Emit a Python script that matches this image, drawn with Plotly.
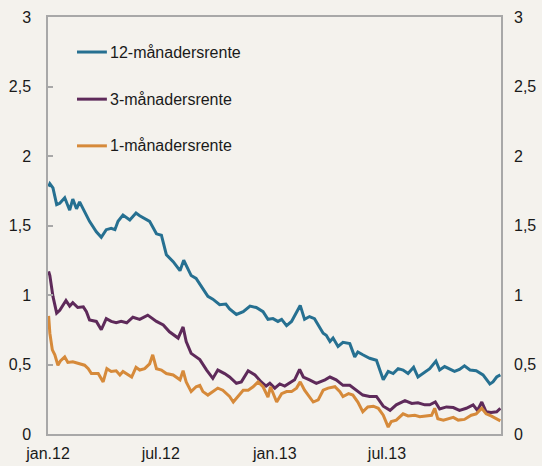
import plotly.graph_objects as go

# ---- data ----
dates_12m = ["2012-01-02","2012-01-04","2012-01-09","2012-01-15","2012-01-20","2012-01-28","2012-02-05","2012-02-10",
             "2012-02-16","2012-02-21","2012-02-29","2012-03-08","2012-03-19","2012-03-27","2012-04-04","2012-04-12",
             "2012-04-18","2012-04-23","2012-05-01","2012-05-12","2012-05-22","2012-05-28","2012-06-13","2012-06-24",
             "2012-07-02","2012-07-10","2012-07-21","2012-08-01","2012-08-07","2012-08-19","2012-08-27","2012-09-07",
             "2012-09-15","2012-09-23","2012-10-04","2012-10-14","2012-10-20","2012-10-31","2012-11-11","2012-11-22",
             "2012-12-02","2012-12-13","2012-12-21","2012-12-29","2013-01-06","2013-01-12","2013-01-20","2013-01-28",
             "2013-02-05","2013-02-11","2013-02-18","2013-02-26","2013-03-06","2013-03-14","2013-03-20","2013-03-25",
             "2013-03-31","2013-04-05","2013-04-13","2013-04-21","2013-05-02","2013-05-10","2013-05-15","2013-05-23",
             "2013-06-03","2013-06-14","2013-06-19","2013-06-25","2013-07-03","2013-07-11","2013-07-19","2013-07-27",
             "2013-08-04","2013-08-13","2013-08-20","2013-08-28","2013-09-08","2013-09-18","2013-09-24","2013-10-02",
             "2013-10-10","2013-10-18","2013-10-26","2013-11-03","2013-11-12","2013-11-22","2013-12-03","2013-12-14",
             "2013-12-19","2013-12-25","2013-12-31"]
rate_12m = [1.78,1.80,1.77,1.65,1.66,1.70,1.61,1.69,1.62,1.67,1.60,1.53,1.455,1.415,1.47,1.48,
            1.47,1.53,1.575,1.54,1.59,1.57,1.53,1.44,1.43,1.29,1.24,1.175,1.25,1.14,1.12,1.05,
            0.99,0.97,0.93,0.935,0.90,0.86,0.88,0.92,0.91,0.88,0.825,0.83,0.81,0.825,0.78,0.81,
            0.87,0.925,0.825,0.845,0.83,0.77,0.725,0.71,0.665,0.69,0.63,0.66,0.65,0.555,0.59,0.57,
            0.545,0.53,0.47,0.39,0.45,0.435,0.47,0.46,0.435,0.48,0.41,0.435,0.47,0.525,0.46,0.485,
            0.47,0.45,0.465,0.49,0.46,0.455,0.425,0.36,0.375,0.41,0.425]

dates_3m = ["2012-01-02","2012-01-04","2012-01-09","2012-01-15","2012-01-20","2012-01-30","2012-02-05","2012-02-10",
            "2012-02-18","2012-02-27","2012-03-03","2012-03-08","2012-03-19","2012-03-27","2012-04-04","2012-04-12",
            "2012-04-20","2012-04-28","2012-05-07","2012-05-17","2012-05-28","2012-06-10","2012-06-24","2012-07-05",
            "2012-07-15","2012-07-29","2012-08-06","2012-08-11","2012-08-19","2012-09-02","2012-09-13","2012-09-23",
            "2012-10-01","2012-10-12","2012-10-20","2012-10-31","2012-11-08","2012-11-19","2012-11-30","2012-12-10",
            "2012-12-18","2012-12-24","2013-01-01","2013-01-09","2013-01-17","2013-01-25","2013-02-02","2013-02-10",
            "2013-02-16","2013-02-26","2013-03-09","2013-03-23","2013-03-31","2013-04-10","2013-04-21","2013-05-02",
            "2013-05-13","2013-05-23","2013-06-03","2013-06-14","2013-06-25","2013-07-06","2013-07-16","2013-07-30",
            "2013-08-10","2013-08-20","2013-08-31","2013-09-08","2013-09-17","2013-09-24","2013-10-05","2013-10-16",
            "2013-10-26","2013-11-06","2013-11-17","2013-11-24","2013-12-01","2013-12-08","2013-12-16","2013-12-25",
            "2013-12-31"]
rate_3m = [1.17,1.14,0.99,0.87,0.89,0.96,0.92,0.945,0.91,0.915,0.88,0.82,0.81,0.75,0.83,0.81,
           0.80,0.81,0.80,0.84,0.825,0.855,0.81,0.785,0.735,0.69,0.77,0.665,0.58,0.535,0.46,0.40,
           0.46,0.435,0.41,0.365,0.375,0.455,0.425,0.375,0.345,0.365,0.33,0.36,0.345,0.365,0.39,0.465,
           0.41,0.39,0.365,0.39,0.41,0.39,0.35,0.35,0.315,0.28,0.27,0.27,0.20,0.17,0.21,0.24,
           0.22,0.225,0.21,0.21,0.23,0.18,0.195,0.19,0.17,0.185,0.21,0.17,0.23,0.16,0.155,0.16,
           0.185]

dates_1m = ["2012-01-02","2012-01-04","2012-01-08","2012-01-12","2012-01-17","2012-01-21","2012-01-28","2012-02-02",
            "2012-02-10","2012-02-21","2012-02-29","2012-03-06","2012-03-11","2012-03-22","2012-03-30","2012-04-05",
            "2012-04-12","2012-04-20","2012-04-26","2012-05-01","2012-05-09","2012-05-15","2012-05-22","2012-05-28",
            "2012-06-05","2012-06-13","2012-06-18","2012-06-24","2012-07-02","2012-07-10","2012-07-21","2012-08-01",
            "2012-08-06","2012-08-11","2012-08-19","2012-08-27","2012-09-02","2012-09-07","2012-09-15","2012-09-23",
            "2012-10-01","2012-10-09","2012-10-20","2012-10-26","2012-11-03","2012-11-11","2012-11-19","2012-11-27",
            "2012-12-05","2012-12-13","2012-12-21","2012-12-25","2013-01-04","2013-01-12","2013-01-20","2013-01-28",
            "2013-02-05","2013-02-11","2013-02-18","2013-03-04","2013-03-12","2013-03-20","2013-03-28","2013-04-08",
            "2013-04-16","2013-04-21","2013-04-30","2013-05-07","2013-05-15","2013-05-23","2013-05-31","2013-06-09",
            "2013-06-17","2013-06-25","2013-07-03","2013-07-08","2013-07-16","2013-07-27","2013-08-04","2013-08-15",
            "2013-08-23","2013-09-03","2013-09-11","2013-09-16","2013-09-21","2013-09-30","2013-10-08","2013-10-16",
            "2013-10-24","2013-11-03","2013-11-14","2013-11-22","2013-12-01","2013-12-08","2013-12-16","2013-12-25",
            "2013-12-31"]
rate_1m = [0.85,0.725,0.605,0.57,0.495,0.525,0.555,0.515,0.52,0.505,0.495,0.47,0.435,0.435,0.375,0.47,
           0.45,0.455,0.425,0.45,0.425,0.41,0.48,0.46,0.47,0.505,0.57,0.47,0.46,0.435,0.425,0.39,
           0.455,0.375,0.305,0.34,0.35,0.305,0.28,0.305,0.33,0.315,0.27,0.23,0.27,0.315,0.315,0.34,
           0.375,0.34,0.265,0.34,0.23,0.29,0.305,0.305,0.33,0.375,0.315,0.23,0.245,0.315,0.33,0.34,
           0.305,0.27,0.29,0.28,0.23,0.16,0.195,0.20,0.185,0.135,0.05,0.09,0.10,0.145,0.13,0.135,
           0.125,0.13,0.135,0.185,0.11,0.10,0.11,0.12,0.10,0.105,0.135,0.145,0.185,0.145,0.13,0.11,
           0.095]

series_names = ["12-månadersrente", "3-månadersrente", "1-månadersrente"]
colors = ["#267091", "#5e2a5a", "#d68a3a"]

tick_dates = ["2012-01-01", "2012-07-01", "2013-01-01", "2013-07-01"]
tick_text = ["jan.12", "jul.12", "jan.13", "jul.13"]
y_ticks = [0, 0.5, 1, 1.5, 2, 2.5, 3]

BG = "#f4f2ed"
AXIS = "#a8a8a8"
FONT = "Liberation Sans, Arial, sans-serif"

fig = go.Figure()
for d, v, name, c in zip([dates_12m, dates_3m, dates_1m], [rate_12m, rate_3m, rate_1m], series_names, colors):
    fig.add_trace(go.Scatter(x=d, y=v, mode="lines", name=name, showlegend=False,
                             line=dict(color=c, width=3), hoverinfo="skip"))
# invisible trace for right axis
fig.add_trace(go.Scatter(x=[dates_12m[0]], y=[0], yaxis="y2", mode="markers",
                         marker=dict(opacity=0), showlegend=False, hoverinfo="skip"))

# manual legend
leg_y = [0.916, 0.803, 0.691]
for name, c, yy in zip(series_names, colors, leg_y):
    fig.add_shape(type="line", xref="paper", yref="paper", x0=0.064, x1=0.130, y0=yy, y1=yy,
                  line=dict(color=c, width=3))
    fig.add_annotation(xref="paper", yref="paper", x=0.133, y=yy, text=name, showarrow=False,
                       xanchor="left", yanchor="middle", font=dict(size=16, color="#1a1a1a", family=FONT))

fig.update_layout(
    width=542, height=466,
    margin=dict(l=48, r=41, t=17, b=32),
    paper_bgcolor=BG, plot_bgcolor=BG,
    separators=", ",
    font=dict(family=FONT, size=16, color="#1a1a1a"),
    xaxis=dict(type="date", range=["2012-01-01", "2014-01-01"], tickmode="array",
               tickvals=tick_dates, ticktext=tick_text, showgrid=False, zeroline=False,
               showline=True, linecolor=AXIS, linewidth=1.5, mirror=True, ticks="",
               ticklabelstandoff=4, automargin=False),
    yaxis=dict(range=[0, 3], tickmode="array", tickvals=y_ticks, showgrid=False, zeroline=False,
               showline=True, linecolor=AXIS, linewidth=1.5, mirror=True,
               ticks="inside", ticklen=5, tickcolor=AXIS, tickwidth=1.5, ticklabelstandoff=12,
               automargin=False),
    yaxis2=dict(range=[0, 3], overlaying="y", side="right", tickmode="array", tickvals=y_ticks,
                showgrid=False, zeroline=False, showline=False, ticks="", ticklabelstandoff=12,
                automargin=False),
)

fig.write_html("out.html", config={"displayModeBar": False},
               post_script="document.body.style.margin='0';document.body.style.background='%s';" % BG)
